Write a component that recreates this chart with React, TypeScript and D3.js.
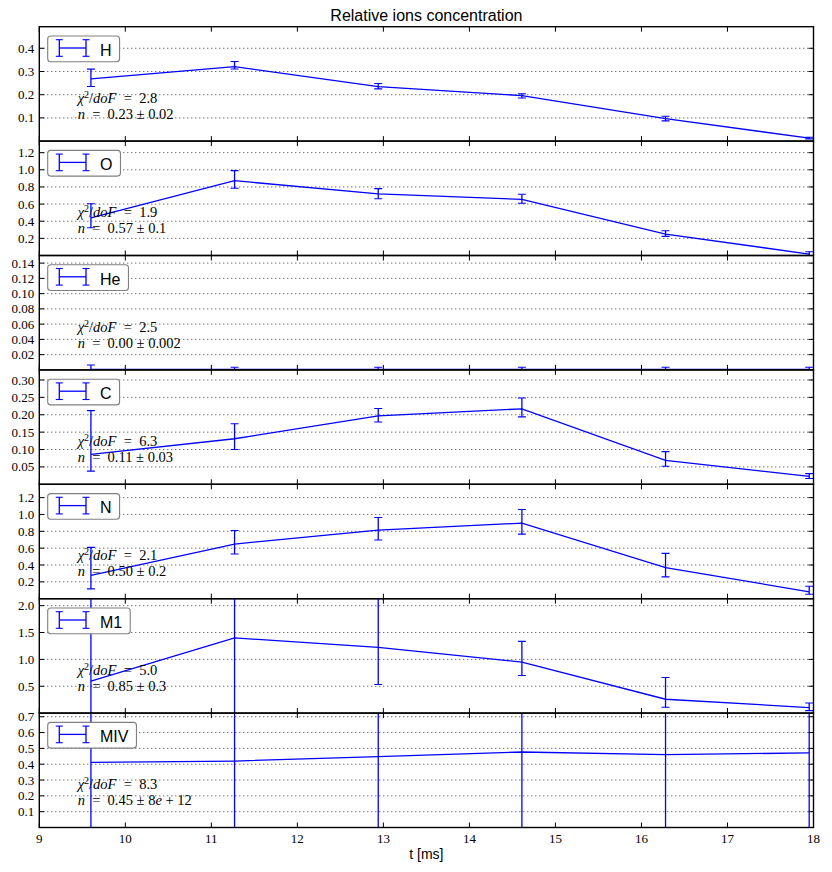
import React, { useRef, useEffect } from "react";
import * as d3 from "d3";

const WIDTH = 832;
const HEIGHT = 872;

const xTicks = [9, 10, 11, 12, 13, 14, 15, 16, 17, 18];
const tValues = [9.6, 11.27, 12.94, 14.61, 16.28, 17.95];
const ions = ["H", "O", "He", "C", "N", "M1", "MIV"];

const hValues = [0.268, 0.321, 0.235, 0.196, 0.097, 0.0125];
const hErrHi = [0.042, 0.022, 0.013, 0.008, 0.01, 0.004];
const hErrLo = [0.033, 0.01, 0.01, 0.01, 0.01, 0.003];

const oValues = [0.44, 0.873, 0.718, 0.655, 0.25, 0.017];
const oErrHi = [0.164, 0.117, 0.062, 0.059, 0.039, 0.027];
const oErrLo = [0.116, 0.089, 0.055, 0.046, 0.027, 0.017];

const heValues = [0.0005, 0.0005, 0.0005, 0.0005, 0.0005, 0.0005];
const heErrHi = [0.006, 0.003, 0.003, 0.003, 0.003, 0.003];
const heErrLo = [0.0005, 0.0005, 0.0005, 0.0005, 0.0005, 0.0005];

const cValues = [0.086, 0.131, 0.197, 0.217, 0.069, 0.0226];
const cErrHi = [0.126, 0.043, 0.021, 0.031, 0.025, 0.008];
const cErrLo = [0.048, 0.031, 0.018, 0.023, 0.017, 0.006];

const nValues = [0.278, 0.649, 0.815, 0.897, 0.369, 0.082];
const nErrHi = [0.331, 0.161, 0.149, 0.161, 0.169, 0.066];
const nErrLo = [0.161, 0.118, 0.119, 0.13, 0.11, 0.029];

const m1Values = [0.594, 1.4, 1.223, 0.949, 0.258, 0.103];
const m1ErrHi = [3, 3, 1.5, 0.386, 0.405, 0.086];
const m1ErrLo = [3, 3, 0.691, 0.249, 0.149, 0.056];

const mivValues = [0.412, 0.42, 0.448, 0.477, 0.461, 0.471];
const mivErrHi = [10, 10, 10, 10, 10, 10];
const mivErrLo = [10, 10, 10, 10, 10, 10];

const yMaxes = [0.493, 1.335, 0.15, 0.329, 1.358, 2.13, 0.723];
const yTicksH = [0.1, 0.2, 0.3, 0.4];
const yTicksO = [0.2, 0.4, 0.6, 0.8, 1.0, 1.2];
const yTicksHe = [0.02, 0.04, 0.06, 0.08, 0.1, 0.12, 0.14];
const yTicksC = [0.05, 0.1, 0.15, 0.2, 0.25, 0.3];
const yTicksN = [0.2, 0.4, 0.6, 0.8, 1.0, 1.2];
const yTicksM1 = [0.5, 1.0, 1.5, 2.0];
const yTicksMIV = [0.1, 0.2, 0.3, 0.4, 0.5, 0.6, 0.7];
const tickDecimals = [1, 1, 2, 2, 1, 1, 1];

const chi2Labels = ["2.8", "1.9", "2.5", "6.3", "2.1", "5.0", "8.3"];
const nLabels = ["0.23", "0.57", "0.00", "0.11", "0.50", "0.85", "0.45"];
const nErrLabels = ["0.02", "0.1", "0.002", "0.03", "0.2", "0.3", "8e+12"];

const series = [
  { v: hValues, hi: hErrHi, lo: hErrLo, ticks: yTicksH },
  { v: oValues, hi: oErrHi, lo: oErrLo, ticks: yTicksO },
  { v: heValues, hi: heErrHi, lo: heErrLo, ticks: yTicksHe },
  { v: cValues, hi: cErrHi, lo: cErrLo, ticks: yTicksC },
  { v: nValues, hi: nErrHi, lo: nErrLo, ticks: yTicksN },
  { v: m1Values, hi: m1ErrHi, lo: m1ErrLo, ticks: yTicksM1 },
  { v: mivValues, hi: mivErrHi, lo: mivErrLo, ticks: yTicksMIV },
];

const BLUE = "#0000ff";
const SERIF = "'Liberation Serif', 'DejaVu Serif', serif";
const SANS = "'Liberation Sans', Arial, sans-serif";
const EN = "\u2002";

export default function App() {
  const ref = useRef<SVGSVGElement>(null);

  useEffect(() => {
    const svg = d3.select(ref.current);
    svg.selectAll("*").remove();

    const left = 39.3;
    const right = 813.5;
    const top0 = 26.7;
    const ph = 114.4;
    const x = d3.scaleLinear().domain([9, 18]).range([left, right]);

    svg.append("rect").attr("width", WIDTH).attr("height", HEIGHT).attr("fill", "white");

    const defs = svg.append("defs");

    series.forEach((s, i) => {
      const top = top0 + i * ph;
      const bottom = top + ph;
      const y = d3.scaleLinear().domain([0, yMaxes[i]]).range([bottom, top]);
      const g = svg.append("g");

      defs
        .append("clipPath")
        .attr("id", `clip${i}`)
        .append("rect")
        .attr("x", left)
        .attr("y", top)
        .attr("width", right - left)
        .attr("height", ph);

      // grid
      s.ticks.forEach((t) => {
        g.append("line")
          .attr("x1", left)
          .attr("x2", right)
          .attr("y1", y(t))
          .attr("y2", y(t))
          .attr("stroke", "#000")
          .attr("stroke-width", 0.8)
          .attr("stroke-dasharray", "1,3");
      });

      // ticks
      s.ticks.forEach((t) => {
        g.append("line").attr("x1", left).attr("x2", left + 5).attr("y1", y(t)).attr("y2", y(t)).attr("stroke", "#000");
        g.append("line").attr("x1", right - 5).attr("x2", right).attr("y1", y(t)).attr("y2", y(t)).attr("stroke", "#000");
        g.append("text")
          .attr("x", left - 5)
          .attr("y", y(t))
          .attr("dy", "0.35em")
          .attr("text-anchor", "end")
          .attr("font-family", SERIF)
          .attr("font-size", 13)
          .text(t.toFixed(tickDecimals[i]));
      });
      xTicks.forEach((t) => {
        g.append("line").attr("x1", x(t)).attr("x2", x(t)).attr("y1", top).attr("y2", top + 5).attr("stroke", "#000");
        g.append("line").attr("x1", x(t)).attr("x2", x(t)).attr("y1", bottom - 5).attr("y2", bottom).attr("stroke", "#000");
      });

      // data
      const dg = g.append("g").attr("clip-path", `url(#clip${i})`);
      const line = d3
        .line<number>()
        .x((_, k) => x(tValues[k]))
        .y((d) => y(d));
      dg.append("path")
        .attr("d", line(s.v))
        .attr("fill", "none")
        .attr("stroke", BLUE)
        .attr("stroke-width", 1.3);
      s.v.forEach((v, k) => {
        const cx = x(tValues[k]);
        const y1 = y(v + s.hi[k]);
        const y2 = y(v - s.lo[k]);
        dg.append("line").attr("x1", cx).attr("x2", cx).attr("y1", y1).attr("y2", y2).attr("stroke", BLUE).attr("stroke-width", 1.3);
        [y1, y2].forEach((yy) => {
          dg.append("line").attr("x1", cx - 4).attr("x2", cx + 4).attr("y1", yy).attr("y2", yy).attr("stroke", BLUE).attr("stroke-width", 1.1);
        });
      });

      // annotation
      const ax = 77.7;
      const t1 = g.append("text").attr("x", ax).attr("y", top + 76).attr("font-family", SERIF).attr("font-size", 14.5);
      t1.append("tspan").attr("font-style", "italic").text("χ");
      t1.append("tspan").attr("font-size", 10).attr("dy", -5).text("2");
      t1.append("tspan").attr("dy", 5).text("/");
      t1.append("tspan").attr("font-style", "italic").text("doF");
      t1.append("tspan").text(`${EN}=${EN}${chi2Labels[i]}`);
      const t2 = g.append("text").attr("x", ax).attr("y", top + 92).attr("font-family", SERIF).attr("font-size", 14.5);
      t2.append("tspan").attr("font-style", "italic").text("n");
      t2.append("tspan").text(`${EN}=${EN}${nLabels[i]} ± `);
      const errLabel = nErrLabels[i];
      if (errLabel.includes("e")) {
        const [a, b] = errLabel.split("e");
        t2.append("tspan").text(a);
        t2.append("tspan").attr("font-style", "italic").text("e");
        t2.append("tspan").text(" " + b.replace("+", "+ "));
      } else {
        t2.append("tspan").text(errLabel);
      }

      // legend
      const lg = g.append("g");
      const bx = left + 8.4;
      const by = top + 9.3;
      const box = lg
        .append("rect")
        .attr("x", bx)
        .attr("y", by)
        .attr("height", 25.7)
        .attr("rx", 3)
        .attr("fill", "white")
        .attr("stroke", "#808080")
        .attr("stroke-width", 1.1);
      const sy = top + 21.3;
      const sx1 = left + 20;
      const sx2 = left + 46.7;
      lg.append("line").attr("x1", sx1).attr("x2", sx2).attr("y1", sy).attr("y2", sy).attr("stroke", BLUE).attr("stroke-width", 1.3);
      [sx1, sx2].forEach((sx) => {
        lg.append("line").attr("x1", sx).attr("x2", sx).attr("y1", sy - 8.3).attr("y2", sy + 8.3).attr("stroke", BLUE).attr("stroke-width", 1.3);
        [sy - 8.3, sy + 8.3].forEach((yy) => {
          lg.append("line").attr("x1", sx - 3.5).attr("x2", sx + 3.5).attr("y1", yy).attr("y2", yy).attr("stroke", BLUE).attr("stroke-width", 1.1);
        });
      });
      const label = lg
        .append("text")
        .attr("x", left + 60.7)
        .attr("y", top + 29)
        .attr("font-family", SANS)
        .attr("font-size", 16)
        .text(ions[i]);
      const tl = (label.node() as SVGTextElement).getComputedTextLength();
      box.attr("width", left + 60.7 + tl + 8 - bx);

      // frame
      g.append("rect")
        .attr("x", left)
        .attr("y", top)
        .attr("width", right - left)
        .attr("height", ph)
        .attr("fill", "none")
        .attr("stroke", "#000")
        .attr("stroke-width", 1.4);
    });

    const bottomAll = top0 + 7 * ph;
    xTicks.forEach((t) => {
      svg
        .append("text")
        .attr("x", x(t))
        .attr("y", bottomAll + 15)
        .attr("text-anchor", "middle")
        .attr("font-family", SERIF)
        .attr("font-size", 13)
        .text(String(t));
    });

    svg
      .append("text")
      .attr("x", (left + right) / 2)
      .attr("y", 21)
      .attr("text-anchor", "middle")
      .attr("font-family", SANS)
      .attr("font-size", 16)
      .text("Relative ions concentration");

    svg
      .append("text")
      .attr("x", (left + right) / 2)
      .attr("y", bottomAll + 31)
      .attr("text-anchor", "middle")
      .attr("font-family", SANS)
      .attr("font-size", 14)
      .text("t [ms]");
  }, []);

  return (
    <svg
      ref={ref}
      width={WIDTH}
      height={HEIGHT}
      style={{ position: "absolute", left: 0, top: 0, display: "block" }}
    />
  );
}
